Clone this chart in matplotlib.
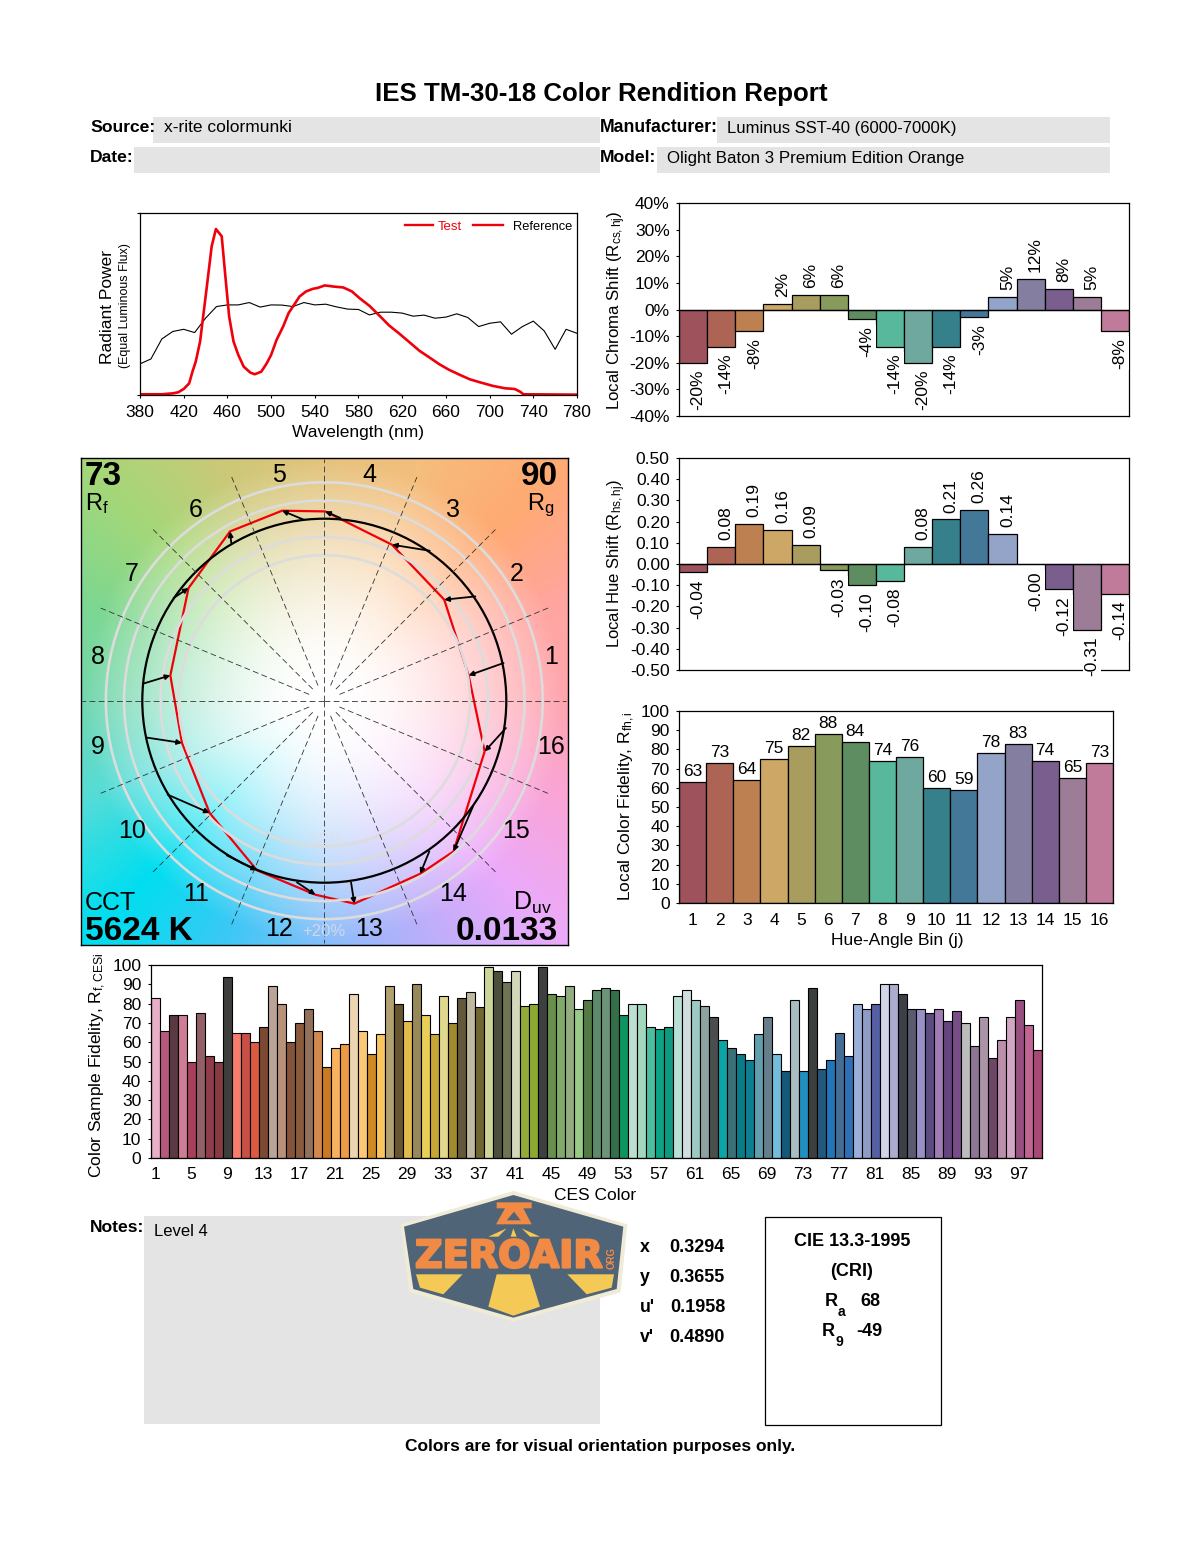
import numpy as np
import matplotlib
matplotlib.use('Agg')
import matplotlib.pyplot as plt
import matplotlib.patheffects as pe
from matplotlib.patches import Rectangle, Polygon, Circle

plt.rcParams['font.family'] = ['Liberation Sans', 'DejaVu Sans']
plt.rcParams['mathtext.fontset'] = 'custom'
plt.rcParams['mathtext.rm'] = 'Liberation Sans'
plt.rcParams['mathtext.it'] = 'Liberation Sans:italic'
plt.rcParams['mathtext.bf'] = 'Liberation Sans:bold'
plt.rcParams['mathtext.default'] = 'regular'
plt.rcParams['axes.unicode_minus'] = False

W, H = 1200, 1550

# spectrum
test_wl = [380, 390, 400, 410, 415, 420, 425, 428, 431, 435, 441, 445.6, 449.5, 454.8, 458, 461.6,
           465.6, 470, 474.9, 481, 485, 491, 496, 500, 505, 511, 516, 520, 526, 532, 538, 543, 549,
           557, 566, 574, 581, 590, 600, 608, 617, 627, 636, 645, 654, 663, 673, 682, 691, 703,
           714, 723, 728, 731, 780]
test_val = [.004, .004, .004, .009, .015, .033, .064, .128, .183, .294, .587, .817, .912, .872, .661, .431,
            .294, .220, .156, .123, .114, .128, .174, .220, .303, .376, .450, .486, .541, .569, .583, .589, .602,
            .596, .591, .569, .532, .490, .431, .382, .339, .288, .242, .206, .169, .138, .110, .086, .070, .050,
            .037, .033, .018, .004, .002]
ref_wl = list(range(380, 781, 10))
ref_val = [.171, .198, .308, .349, .361, .343, .422, .486, .495, .495, .508, .483, .495, .494, .486, .508,
           .495, .499, .484, .472, .470, .440, .455, .455, .450, .433, .439, .422, .428, .446, .426, .376,
           .394, .402, .334, .376, .406, .352, .251, .361, .339]
wl_ticks = list(range(380, 781, 40))

# 16 hue bins
bins = list(range(1, 17))
bin_colors = ['#9e525c', '#ad6454', '#bd8050', '#cca766', '#a89d5e', '#889a5c', '#5e8d61', '#57b89c',
              '#6ea89f', '#35808a', '#437899', '#93a4c8', '#847fa0', '#7a5e8e', '#9c7c96', '#c07a9a']
chroma_shift = [-20, -14, -8, 2, 5.6, 5.6, -3.7, -14, -20, -14, -2.7, 4.8, 11.6, 7.8, 4.8, -8]
hue_shift = [-0.04, 0.08, 0.19, 0.16, 0.09, -0.03, -0.10, -0.08, 0.08, 0.21, 0.255, 0.14, -0.002, -0.12, -0.31, -0.14]
local_fidelity = [63, 73, 64, 75, 82, 88, 84, 74, 76, 60, 59, 78, 83, 74, 65, 73]

# vector graphic, in units of the reference circle radius
arrow_tail_x = [.985, .830, .579, .088, -.114, -.511, -.828, -.998, -.980, -.861, -.535, -.150, .147, .577, .817, .998]
arrow_tail_y = [.207, .573, .824, 1.004, .995, .866, .564, .093, -.202, -.516, -.850, -.998, -.998, -.828, -.581, -.150]
test_x = [.793, .659, .372, .005, -.232, -.518, -.746, -.846, -.782, -.630, -.370, -.049, .165, .527, .710, .881]
test_y = [.139, .555, .857, 1.040, 1.044, .930, .619, .139, -.232, -.617, -.932, -1.066, -1.115, -.951, -.828, -.279]
ring_radii = [0.8, 0.9, 1.1, 1.2]
# colours at the edge of the graphic, every 22.5 degrees from the right going anticlockwise
edge_colors = [(255, 165, 175), (255, 165, 160), (255, 170, 115), (245, 190, 125), (228, 195, 125), (205, 200, 120),
               (165, 215, 120), (125, 215, 145), (115, 215, 175), (85, 220, 215), (0, 222, 240), (60, 200, 245),
               (135, 190, 250), (185, 175, 250), (235, 170, 250), (250, 165, 215)]

# 99 colour samples
ces_values = [83, 66, 74, 74, 50, 75, 53, 50, 94, 65, 65, 60, 68, 89, 80, 60, 70, 77, 66, 47, 57, 59, 85, 66, 54,
              64, 89, 80, 71, 90, 74, 64, 84, 70, 83, 86, 78, 99, 97, 91, 97, 79, 80, 99, 85, 84, 89, 77, 82, 87,
              88, 87, 74, 80, 80, 68, 67, 68, 84, 87, 82, 79, 73, 61, 57, 54, 51, 64, 73, 54, 45, 82, 45, 88, 46,
              51, 65, 53, 80, 77, 80, 90, 90, 85, 77, 77, 75, 77, 71, 76, 70, 58, 73, 52, 61, 73, 82, 69, 56]
ces_colors = ['#e8b0c8', '#b8587e', '#5a3a42', '#cf7d97', '#a8405c', '#936067', '#913c4c', '#873c43', '#3e3e3c',
              '#f87c6e', '#c84f45', '#dc5a42', '#7c4a32', '#baa498', '#b8917a', '#85533a', '#8a5a3c', '#93705a',
              '#d4884e', '#cb7a24', '#f8b25f', '#ef9b43', '#ecd5b0', '#fbc878', '#cf8a25', '#fbc65f', '#b0a072',
              '#66552f', '#e2bb4e', '#97895a', '#e8cf58', '#c6a634', '#e0d88f', '#9f8a2c', '#63593a', '#bfb9a0',
              '#6f6632', '#ced59a', '#4c4f3c', '#6f7552', '#d3d8bc', '#93ab3a', '#8daa30', '#3e4040', '#698f4e',
              '#80a96a', '#93ad80', '#98cb88', '#547a44', '#5b8c6a', '#6c9478', '#33704a', '#0e9460', '#bcdfd2',
              '#a3d8be', '#4cbfa0', '#0ea386', '#0e9a7e', '#b8e0d5', '#d0dedd', '#9ccac2', '#8da3a2', '#4a4e4e',
              '#0ca4a4', '#3c7078', '#087c88', '#0e7e92', '#629fae', '#667e8a', '#74bcdc', '#14587a', '#a8bcc2',
              '#2090c0', '#3b3f40', '#22587c', '#2276b8', '#456e96', '#2e6fb6', '#9ab0d8', '#8f9cc8', '#5560a4',
              '#d0d6e8', '#acacd0', '#3e4048', '#5c5a6e', '#9a90c8', '#5c4c80', '#a07cb6', '#66457e', '#784e88',
              '#bcbcbc', '#8c7694', '#ac94a8', '#704668', '#bc90ac', '#d0a8c4', '#985080', '#c06494', '#a84874']
ces_ticks = list(range(1, 98, 4))

chroma_ticks = list(range(-40, 41, 10))
hue_ticks = [-.5, -.4, -.3, -.2, -.1, 0, .1, .2, .3, .4, .5]
fid_ticks = list(range(0, 101, 10))


def px_axes(left, top, right, bottom):
    return fig.add_axes([left / W, 1 - bottom / H, (right - left) / W, (bottom - top) / H])


def shift_bars(ax, values, fmt, offset=5):
    ax.bar(bins, values, width=1, color=bin_colors, edgecolor='black', linewidth=0.9, zorder=2)
    ax.axhline(0, color='black', lw=0.9, zorder=3)
    for b, v in zip(bins, values):
        ax.annotate(fmt(v), (b, v), xytext=(3.6, offset if v > 0 else -offset), textcoords='offset points',
                    rotation=90, ha='center', va='bottom' if v > 0 else 'top', fontsize=12.5, zorder=5,
                    annotation_clip=False, bbox=dict(fc='white', ec='none', pad=1.2) if v < 0 else None)
    ax.set_xlim(0.5, 16.5)
    ax.set_xticks([])
    ax.tick_params(axis='y', length=2.5, width=0.8, pad=4.2, labelsize=12.5)
    for s in ax.spines.values():
        s.set_linewidth(0.9)
        s.set_zorder(4)


fig = plt.figure(figsize=(W / 100, H / 100), dpi=100, facecolor='white')

# spectrum
ax = px_axes(140, 213, 577, 395)
ax.plot(ref_wl, ref_val, color='black', lw=0.8)
ax.plot(test_wl, test_val, color='#f0000a', lw=1.9)
ax.set_xlim(380, 780)
ax.set_ylim(0, 1)
ax.set_xticks(wl_ticks)
ax.set_yticks([0, 1])
ax.set_yticklabels([])
ax.tick_params(length=2, width=0.8, pad=5, labelsize=12.5)
for s in ax.spines.values():
    s.set_linewidth(0.9)

# chroma shift
ax = px_axes(679, 203, 1129, 416)
shift_bars(ax, chroma_shift, lambda v: f'{v:.0f}%')
ax.set_ylim(-40, 40)
ax.set_yticks(chroma_ticks)
ax.set_yticklabels([f'{t}%' for t in chroma_ticks])

# hue shift
ax = px_axes(679, 458, 1129, 670)
shift_bars(ax, hue_shift, lambda v: f'{v:.2f}')
ax.set_ylim(-.5, .5)
ax.set_yticks(hue_ticks)
ax.set_yticklabels([f'{t:.2f}' for t in hue_ticks])

# local fidelity
ax = px_axes(679, 711, 1113, 903)
ax.bar(bins, local_fidelity, width=1, color=bin_colors, edgecolor='black', linewidth=0.9)
for b, v in zip(bins, local_fidelity):
    ax.annotate(str(v), (b, v), xytext=(0, 2), textcoords='offset points', ha='center', va='bottom', fontsize=12.5)
ax.set_xlim(0.5, 16.5)
ax.set_ylim(0, 100)
ax.set_xticks(bins)
ax.set_yticks(fid_ticks)
ax.tick_params(axis='x', length=0, pad=7, labelsize=12.5)
ax.tick_params(axis='y', length=2.5, width=0.8, pad=4.2, labelsize=12.5)
for s in ax.spines.values():
    s.set_linewidth(0.9)

# all 99 samples
ax = px_axes(150.5, 965, 1041.5, 1158)
ax.bar(range(1, 100), ces_values, width=1, color=ces_colors, edgecolor='black', linewidth=0.8)
ax.set_xlim(0.5, 99.5)
ax.set_ylim(0, 100)
ax.set_xticks(ces_ticks)
ax.set_yticks(fid_ticks)
ax.tick_params(axis='x', length=0, pad=6.5, labelsize=12.5)
ax.tick_params(axis='y', length=2.5, width=0.8, pad=4.2, labelsize=12.5)
for s in ax.spines.values():
    s.set_linewidth(0.9)

# colour vector graphic: 1 unit = 182 px
ax = px_axes(81, 458, 568, 945)
lim_l, lim_r = (81 - 324.3) / 182, (568 - 324.3) / 182
lim_b, lim_t = (700.7 - 945) / 182, (700.7 - 458) / 182
gx, gy = np.meshgrid(np.linspace(lim_l, lim_r, 490), np.linspace(lim_t, lim_b, 490))
ang = np.degrees(np.arctan2(gy, gx)) % 360
rad = np.hypot(gx, gy)
fade = np.clip((rad - 0.12) / 1.2, 0, 1)[..., None] ** 1.5
edge = np.array(edge_colors, dtype=float)
edge_ang = np.arange(16) * 22.5
base = np.stack([np.interp(ang, edge_ang, edge[:, i], period=360) for i in range(3)], axis=-1)
ax.imshow((255 * (1 - fade) + base * fade) / 255, extent=(lim_l, lim_r, lim_b, lim_t), aspect='auto',
          interpolation='bilinear')
for a in np.arange(16) * 22.5:
    cs, sn = np.cos(np.radians(a)), np.sin(np.radians(a))
    r0 = 0 if a % 90 == 0 else 0.09
    ax.plot([r0 * cs, 1.33 * cs], [r0 * sn, 1.33 * sn], color='#333333', lw=0.6, dashes=(7, 4))
ax.add_patch(Polygon(np.column_stack([test_x, test_y]), closed=True, fc='none', ec='#f0000a', lw=1.6))
for r in ring_radii:
    ax.add_patch(Circle((0, 0), r, fc='none', ec='#dcdcdc', lw=1.9))
ax.add_patch(Circle((0, 0), 1, fc='none', ec='black', lw=1.6))
for x0, y0, x1, y1 in zip(arrow_tail_x, arrow_tail_y, test_x, test_y):
    ax.annotate('', xy=(x1, y1), xytext=(x0, y0),
                arrowprops=dict(arrowstyle='-|>', color='black', lw=1.3, mutation_scale=7, shrinkA=0, shrinkB=0))
for b in bins:
    a = np.radians(11.25 + 22.5 * (b - 1))
    ax.text(1.27 * np.cos(a), 1.27 * np.sin(a) - 0.008, str(b), fontsize=18, ha='center', va='center')
ax.set_xlim(lim_l, lim_r)
ax.set_ylim(lim_b, lim_t)
ax.set_xticks([])
ax.set_yticks([])
for s in ax.spines.values():
    s.set_linewidth(1.0)

# everything placed in page pixels
page = fig.add_axes([0, 0, 1, 1], zorder=10)
page.set_xlim(0, W)
page.set_ylim(H, 0)
page.axis('off')
page.patch.set_alpha(0)


def txt(x, y, s, size=12.5, weight='normal', ha='left', va='center', **kw):
    dy = 0
    if va == 'center':
        dy = 2 if 'rotation' in kw else 4
    page.text(x, y + dy, s, fontsize=size, fontweight=weight, ha=ha, va=va, **kw)


def box(x0, y0, x1, y1, **kw):
    page.add_patch(Rectangle((x0, y0), x1 - x0, y1 - y0, **kw))


gray = '#e4e4e4'
box(153, 117, 600, 143, fc=gray, ec='none', zorder=0)
box(134, 147, 600, 173, fc=gray, ec='none', zorder=0)
box(717, 117, 1110, 143, fc=gray, ec='none', zorder=0)
box(657, 147, 1110, 173, fc=gray, ec='none', zorder=0)
box(144, 1216, 600, 1424, fc=gray, ec='none', zorder=0)
box(764.5, 1216.5, 940.5, 1424.5, fc='none', ec='black', lw=0.9)

txt(601, 90, 'IES TM-30-18 Color Rendition Report', size=18.6, weight='bold', ha='center')
txt(90, 124, 'Source:', size=12.6, weight='bold')
txt(164, 124, 'x-rite colormunki')
txt(90, 154, 'Date:', size=12.6, weight='bold')
txt(600, 124, 'Manufacturer:', size=12.7, weight='bold')
txt(727, 124, 'Luminus SST-40 (6000-7000K)', size=12)
txt(600, 154, 'Model:', size=12.6, weight='bold')
txt(667, 154, 'Olight Baton 3 Premium Edition Orange', size=12.2)

# spectrum legend and labels
page.plot([405, 433], [225, 225], color='#f0000a', lw=1.7)
page.plot([473, 503], [225, 225], color='#f0000a', lw=1.7)
txt(438, 223, 'Test', size=9.5, color='#f0000a')
txt(513, 223, 'Reference', size=9.3)
txt(107, 305, 'Radiant Power', rotation=90, ha='center')
txt(125, 304, '(Equal Luminous Flux)', size=9, rotation=90, ha='center')
txt(358, 429, 'Wavelength (nm)', ha='center')

txt(617, 308, 'Local Chroma Shift (R$_{cs,hj}$)', size=12.2, rotation=90, ha='center')
txt(617, 562, 'Local Hue Shift (R$_{hs,hj}$)', size=12, rotation=90, ha='center')
txt(627, 804, 'Local Color Fidelity, R$_{fh,i}$', rotation=90, ha='center')
txt(897, 937, 'Hue-Angle Bin (j)', ha='center')
txt(98, 1063, 'Color Sample Fidelity, R$_{f,CESi}$', rotation=90, ha='center')
txt(595, 1192, 'CES Color', ha='center')

# graphic corners, on baselines so the number and its name stay apart
txt(85, 485, '73', size=24, weight='bold', va='baseline')
txt(85, 510, 'R$_{f}$', size=17, va='baseline')
txt(558, 485, '90', size=24, weight='bold', ha='right', va='baseline')
txt(554, 510, 'R$_{g}$', size=17, ha='right', va='baseline')
txt(85, 899, 'CCT', size=18)
txt(85, 928, '5624 K', size=24, weight='bold')
txt(552, 899, 'D$_{uv}$', size=18, ha='right')
txt(558, 928, '0.0133', size=24, weight='bold', ha='right')
txt(324, 927, '+20%', size=12, ha='center', color='#d0d8e8')
txt(324, 835, '-20%', size=12, ha='center', color='#d8e2f0')

txt(90, 1223, 'Notes:', size=12.6, weight='bold')
txt(154, 1228, 'Level 4', size=12)

for yy, lab, val, vx in [(1243, 'x', '0.3294', 669), (1273, 'y', '0.3655', 669),
                         (1303, "u'", '0.1958', 670), (1333, "v'", '0.4890', 669)]:
    txt(640, yy, lab, size=12.8, weight='bold')
    txt(vx, yy, val, size=13, weight='bold')

txt(852, 1238, 'CIE 13.3-1995', size=13, weight='bold', ha='center')
txt(852, 1268, '(CRI)', size=13, weight='bold', ha='center')
txt(825, 1298, 'R', size=13, weight='bold')
txt(838, 1308, 'a', size=10, weight='bold')
txt(860, 1298, '68', size=13, weight='bold')
txt(822, 1328, 'R', size=13, weight='bold')
txt(835, 1338, '9', size=10, weight='bold')
txt(856, 1328, '-49', size=13, weight='bold')
txt(600, 1442, 'Colors are for visual orientation purposes only.', size=12.5, weight='bold', ha='center')


# logo, drawn from a 3x crop of the picture
def logo_pts(pts):
    return [(390 + x / 3, 1185 + y / 3) for x, y in pts]


def logo_poly(pts, color, z=3):
    page.add_patch(Polygon(logo_pts(pts), closed=True, fc=color, ec='none', zorder=z))


logo_poly([(370, 18), (712, 118), (692, 322), (370, 410), (58, 322), (32, 118)], '#f0ebd6', 2)
logo_poly([(370, 30), (700, 125), (680, 312), (370, 398), (70, 312), (42, 125)], '#4f6477', 3)
orange, yellow = '#f08a45', '#f5c955'
logo_poly([(320, 52), (425, 52), (425, 70), (400, 70), (425, 118), (318, 118), (345, 70), (320, 70)], orange, 4)
logo_poly([(372, 80), (392, 106), (350, 106)], '#4f6477', 5)
logo_poly([(295, 155), (350, 130), (325, 155)], yellow, 4)
logo_poly([(362, 155), (370, 130), (380, 155)], yellow, 4)
logo_poly([(395, 130), (450, 155), (420, 155)], yellow, 4)
logo_poly([(320, 268), (420, 268), (450, 365), (370, 392), (295, 365)], yellow, 4)
logo_poly([(78, 268), (218, 268), (160, 328), (90, 308)], yellow, 4)
logo_poly([(532, 268), (672, 268), (665, 308), (590, 328)], yellow, 4)
page.text(509, 1257.5, 'ZEROAIR', fontsize=27.5, fontweight='bold', family='DejaVu Sans', color=orange,
          ha='center', va='center', zorder=6,
          path_effects=[pe.withStroke(linewidth=1.6, foreground=orange)])
page.text(612, 1258, 'ORG', fontsize=7, fontweight='bold', color=orange, rotation=90, ha='center', va='center', zorder=6)

fig.savefig('out.png', dpi=100)
